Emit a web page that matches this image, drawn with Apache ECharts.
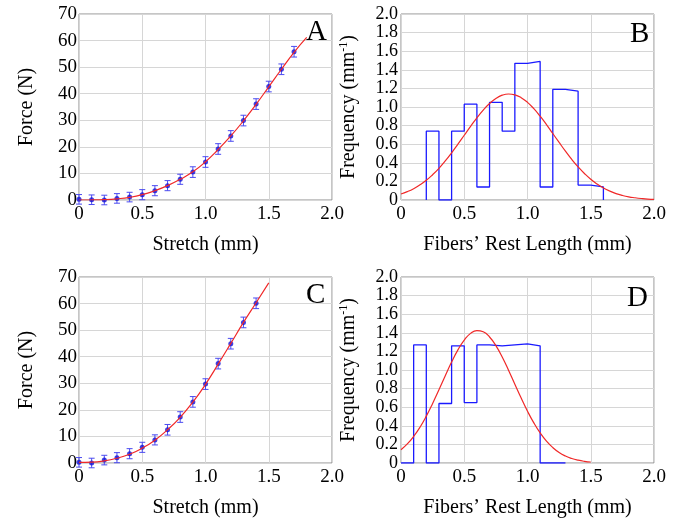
<!DOCTYPE html>
<html>
<head>
<meta charset="utf-8">
<script src="https://cdn.jsdelivr.net/npm/echarts@6/dist/echarts.min.js"></script>
<style>
  html, body { margin: 0; padding: 0; background: #fff; }
  #chart { width: 682px; height: 522px; }
</style>
</head>
<body>
<div id="chart"></div>
<script>
// panel A / C : force vs stretch
const stretchA = [0, 0.1, 0.2, 0.3, 0.4, 0.5, 0.6, 0.7, 0.8, 0.9, 1.0, 1.1, 1.2, 1.3, 1.4, 1.5, 1.6, 1.7];
const forceA = [0.25, 0.1, 0.0, 0.6, 1.1, 2.0, 3.5, 5.4, 7.8, 10.5, 14.3, 19.2, 24.1, 29.9, 36.1, 42.7, 49.2, 55.8];
const errA = [1.8, 1.8, 1.8, 1.8, 1.8, 1.9, 1.9, 1.9, 1.9, 2.0, 2.0, 2.0, 2.0, 2.0, 2.0, 2.0, 2.0, 2.0];
const fitXA = [0, 0.1, 0.2, 0.3, 0.4, 0.5, 0.6, 0.7, 0.8, 0.9, 1.0, 1.1, 1.2, 1.3, 1.4, 1.5, 1.6, 1.7, 1.8];
const fitA = [0, 0.05, 0.15, 0.45, 1.0, 2.0, 3.5, 5.4, 7.8, 10.6, 14.4, 19.0, 24.1, 29.8, 36.0, 42.6, 49.2, 55.6, 61.2];

const stretchC = [0, 0.1, 0.2, 0.3, 0.4, 0.5, 0.6, 0.7, 0.8, 0.9, 1.0, 1.1, 1.2, 1.3, 1.4];
const forceC = [0.25, 0.0, 1.1, 2.0, 3.5, 5.9, 8.7, 12.5, 17.3, 23.0, 29.7, 37.4, 44.9, 52.9, 60.1];
const errC = [1.8, 1.8, 1.8, 1.9, 1.9, 1.9, 1.9, 2.0, 2.0, 2.0, 2.0, 2.0, 2.0, 2.0, 2.0];
const fitXC = [0, 0.1, 0.2, 0.3, 0.4, 0.5, 0.6, 0.7, 0.8, 0.9, 1.0, 1.1, 1.2, 1.3, 1.4, 1.5];
const fitC = [0.2, 0.3, 0.8, 1.8, 3.3, 5.6, 8.6, 12.5, 17.2, 22.9, 29.6, 37.2, 45.0, 52.9, 60.3, 67.8];

// panel B / D : fibers' rest length histogram + normal fit
const edgesB = [0.2, 0.2, 0.3, 0.4, 0.5, 0.6, 0.7, 0.8, 0.9, 1.0, 1.1, 1.2, 1.3, 1.4, 1.5, 1.6];
const freqB = [0, 0.74, 0, 0.74, 1.03, 0.14, 1.05, 0.74, 1.47, 1.49, 0.14, 1.19, 1.17, 0.16, 0.14, 0];
const curveXB = [0, 0.05, 0.1, 0.15, 0.2, 0.25, 0.3, 0.35, 0.4, 0.45, 0.5, 0.55, 0.6, 0.65, 0.7, 0.75, 0.8, 0.85, 0.9, 0.95,
  1.0, 1.05, 1.1, 1.15, 1.2, 1.25, 1.3, 1.35, 1.4, 1.45, 1.5, 1.55, 1.6, 1.65, 1.7, 1.75, 1.8, 1.85, 1.9, 1.95, 2.0];
const curveB = [0.065, 0.09, 0.122, 0.163, 0.212, 0.272, 0.341, 0.42, 0.507, 0.6, 0.696, 0.792, 0.884, 0.967, 1.038, 1.092, 1.127, 1.14, 1.131, 1.1,
  1.05, 0.982, 0.901, 0.811, 0.715, 0.619, 0.525, 0.436, 0.356, 0.285, 0.223, 0.172, 0.13, 0.096, 0.069, 0.049, 0.034, 0.024, 0.016, 0.01, 0.007];

const edgesD = [0, 0.1, 0.2, 0.3, 0.4, 0.5, 0.6, 0.7, 0.8, 0.9, 1.0, 1.1, 1.2, 1.3];
const freqD = [0, 1.27, 0, 0.64, 1.26, 0.65, 1.27, 1.26, 1.27, 1.28, 1.26, 0, 0, 0];
const curveXD = [0, 0.05, 0.1, 0.15, 0.2, 0.25, 0.3, 0.35, 0.4, 0.45, 0.5, 0.55, 0.6, 0.65, 0.7, 0.75,
  0.8, 0.85, 0.9, 0.95, 1.0, 1.05, 1.1, 1.15, 1.2, 1.25, 1.3, 1.35, 1.4, 1.45, 1.5];
const curveD = [0.143, 0.205, 0.286, 0.385, 0.504, 0.64, 0.787, 0.938, 1.085, 1.216, 1.322, 1.394, 1.424, 1.411, 1.355, 1.262,
  1.14, 0.998, 0.847, 0.698, 0.557, 0.431, 0.323, 0.235, 0.166, 0.113, 0.075, 0.048, 0.03, 0.018, 0.011];

const panelLetters = ['A', 'B', 'C', 'D'];

const FONT = '"Liberation Serif", "Times New Roman", serif';
const RED = '#f02828';
const BLUE = '#1a1aff';

const zip = (xs, ys) => xs.map((x, i) => [x, ys[i]]);
const fmt = (v) => (v === 0 ? '0' : v.toFixed(1));

const grids = [
  { left: 79, top: 14, width: 253, height: 186 },
  { left: 401, top: 14, width: 253, height: 186 },
  { left: 79, top: 277, width: 253, height: 186 },
  { left: 401, top: 277, width: 253, height: 186 },
].map((g) => Object.assign(g, { show: true, borderColor: '#8c8c8c', borderWidth: 1 }));

const tickText = { fontFamily: FONT, fontSize: 19, color: '#000', showMinLabel: true, showMaxLabel: true };

const xAxisFor = (i, name) => ({
  type: 'value',
  gridIndex: i,
  min: 0,
  max: 2,
  interval: 0.5,
  name,
  nameLocation: 'middle',
  nameGap: 35,
  nameTextStyle: { fontFamily: FONT, fontSize: 20, color: '#000' },
  axisLine: { show: false },
  axisTick: { show: false },
  axisLabel: Object.assign({ margin: 5, formatter: fmt }, tickText),
  splitLine: { lineStyle: { color: '#d6d6d6' } },
});

const yForce = (i) => ({
  type: 'value',
  gridIndex: i,
  min: 0,
  max: 70,
  interval: 10,
  name: 'Force (N)',
  nameLocation: 'middle',
  nameRotate: 90,
  nameGap: 42,
  nameTextStyle: { fontFamily: FONT, fontSize: 20, color: '#000' },
  axisLine: { show: false },
  axisTick: { show: false },
  axisLabel: Object.assign({ margin: 2 }, tickText),
  splitLine: { lineStyle: { color: '#d6d6d6' } },
});

const yFreq = (i) => ({
  type: 'value',
  gridIndex: i,
  min: 0,
  max: 2,
  interval: 0.2,
  name: 'Frequency (mm{sup|-1})',
  nameLocation: 'middle',
  nameRotate: 90,
  nameGap: 41,
  nameTextStyle: {
    fontFamily: FONT, fontSize: 20, color: '#000',
    rich: { sup: { fontFamily: FONT, fontSize: 12, color: '#000', verticalAlign: 'top', lineHeight: 22 } },
  },
  axisLine: { show: false },
  axisTick: { show: false },
  axisLabel: Object.assign({}, tickText, { margin: 3, formatter: fmt, fontSize: 18 }),
  splitLine: { lineStyle: { color: '#d6d6d6' } },
});

const errorBars = (i, xs, ys, es) => ({
  type: 'custom',
  xAxisIndex: i,
  yAxisIndex: i,
  clip: false,
  z: 3,
  data: xs.map((x, k) => [x, ys[k] - es[k], ys[k] + es[k]]),
  encode: { x: 0, y: [1, 2] },
  renderItem: (params, api) => {
    const lo = api.coord([api.value(0), api.value(1)]);
    const hi = api.coord([api.value(0), api.value(2)]);
    const w = 3;
    const style = { stroke: '#4a4af0', lineWidth: 1 };
    return {
      type: 'group',
      children: [
        { type: 'line', shape: { x1: lo[0], y1: lo[1], x2: hi[0], y2: hi[1] }, style },
        { type: 'line', shape: { x1: lo[0] - w, y1: lo[1], x2: lo[0] + w, y2: lo[1] }, style },
        { type: 'line', shape: { x1: hi[0] - w, y1: hi[1], x2: hi[0] + w, y2: hi[1] }, style },
      ],
    };
  },
});

const points = (i, xs, ys) => ({
  type: 'scatter',
  xAxisIndex: i,
  yAxisIndex: i,
  symbolSize: 5,
  z: 4,
  itemStyle: { color: '#1010d8' },
  data: zip(xs, ys),
});

const curve = (i, xs, ys) => ({
  type: 'line',
  xAxisIndex: i,
  yAxisIndex: i,
  smooth: true,
  showSymbol: false,
  z: 5,
  lineStyle: { color: RED, width: 1.2 },
  data: zip(xs, ys),
});

const stairs = (i, xs, ys) => ({
  type: 'line',
  xAxisIndex: i,
  yAxisIndex: i,
  step: 'end',
  showSymbol: false,
  z: 3,
  lineStyle: { color: BLUE, width: 1.3 },
  data: zip(xs, ys),
});

const letterPos = [[306, 18], [630, 20], [306, 281], [627, 284]];

const chart = echarts.init(document.getElementById('chart'), null, { renderer: 'canvas' });
chart.setOption({
  animation: false,
  backgroundColor: '#fff',
  grid: grids,
  xAxis: [
    xAxisFor(0, 'Stretch (mm)'),
    xAxisFor(1, 'Fibers\u2019 Rest Length (mm)'),
    xAxisFor(2, 'Stretch (mm)'),
    xAxisFor(3, 'Fibers\u2019 Rest Length (mm)'),
  ],
  yAxis: [yForce(0), yFreq(1), yForce(2), yFreq(3)],
  graphic: panelLetters.map((t, k) => ({
    type: 'text',
    left: letterPos[k][0],
    top: letterPos[k][1],
    z: 10,
    style: { text: t, fontFamily: FONT, fontSize: 29, fill: '#000' },
  })),
  series: [
    curve(0, fitXA, fitA),
    errorBars(0, stretchA, forceA, errA),
    points(0, stretchA, forceA),
    stairs(1, edgesB, freqB),
    curve(1, curveXB, curveB),
    curve(2, fitXC, fitC),
    errorBars(2, stretchC, forceC, errC),
    points(2, stretchC, forceC),
    stairs(3, edgesD, freqD),
    curve(3, curveXD, curveD),
  ],
});
</script>
</body>
</html>
